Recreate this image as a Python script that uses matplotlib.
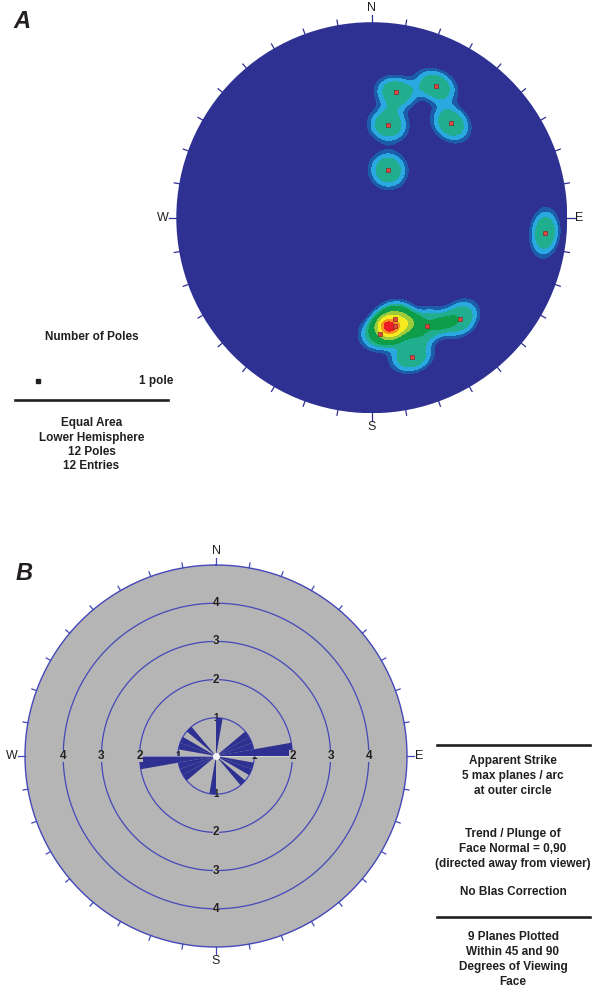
import numpy as np
import matplotlib
matplotlib.use("Agg")
import matplotlib.pyplot as plt
from matplotlib.patches import Circle
from matplotlib.lines import Line2D

plt.rcParams['font.family'] = ['Liberation Sans', 'DejaVu Sans']

W, H = 593, 998
TXT = '#231F20'
DARK_BLUE = '#2E3192'
RING_BLUE = '#4448B8'

# panel A: poles (trend, plunge in degrees), lower hemisphere
pole_trend = [11, 26, 10, 40, 19, 95, 167, 168, 176, 153, 139, 164]
pole_plunge = [35, 26, 50, 37, 69, 12, 46, 43, 40, 38, 32, 27]

# density contour levels / colours
dens_levels = [0.33, 0.54, 0.78, 1.02, 1.6, 1.95, 2.3, 2.5, 10]
dens_colors = ['#1D5CAB', '#29A9E0', '#1FAE8E', '#0E9E4A', '#9CCB3B',
               '#F6EB1E', '#F7941E', '#ED1C24']
kernel_scale = 7.9  # degrees
kernel_power = 3

# panel B: rose of apparent strike (10 deg bins, bidirectional)
strike_bins = [0, 50, 60, 70, 80, 100, 110, 130]
strike_counts = [1, 1, 1, 1, 2, 1, 1, 1]
ring_values = [1, 2, 3, 4]
rose_max = 5

legend_a = ['Equal Area', 'Lower Hemisphere', '12 Poles', '12 Entries']
legend_b1 = ['Apparent Strike', '5 max planes / arc', 'at outer circle']
legend_b2 = ['Trend / Plunge of', 'Face Normal = 0,90', '(directed away from viewer)']
legend_b3 = 'No Blas Correction'
legend_b4 = ['9 Planes Plotted', 'Within 45 and 90', 'Degrees of Viewing', 'Face']


def fx(px):
    return px / W


def fy(py):
    return 1 - py / H


def equal_area(trend, plunge):
    t = np.radians(np.asarray(trend, float))
    p = np.radians(np.asarray(plunge, float))
    r = np.sqrt(2) * np.sin((np.pi / 2 - p) / 2)
    return r * np.sin(t), r * np.cos(t)


def to_vec(trend, plunge):
    t = np.radians(np.asarray(trend, float))
    p = np.radians(np.asarray(plunge, float))
    return np.stack([np.cos(p) * np.sin(t), np.cos(p) * np.cos(t), np.sin(p)], -1)


fig = plt.figure(figsize=(W / 100, H / 100), dpi=100)

# ---------------- panel A ----------------
cxa, cya, ra = 371.8, 217.7, 195.5
axa = fig.add_axes([fx(cxa - ra), fy(cya + ra), 2 * ra / W, 2 * ra / H])
axa.set_xlim(-1, 1)
axa.set_ylim(-1, 1)
axa.axis('off')

disk = Circle((0, 0), 1, facecolor=DARK_BLUE, edgecolor='none', zorder=1)
axa.add_patch(disk)

# density on the sphere, back-projected onto the net
g = np.linspace(-1, 1, 600)
gx, gy = np.meshgrid(g, g)
gr = np.clip(np.hypot(gx, gy), 0, 1)
theta = 2 * np.arcsin(gr / np.sqrt(2))
gt = np.arctan2(gx, gy)
gv = np.stack([np.sin(theta) * np.sin(gt), np.sin(theta) * np.cos(gt), np.cos(theta)], -1)
pv = to_vec(pole_trend, pole_plunge)
dens = np.zeros_like(gx)
for v in pv:
    ang = np.degrees(np.arccos(np.clip(np.abs(gv @ v), -1, 1)))
    dens += np.exp(-(ang / kernel_scale) ** kernel_power)
cs = axa.contourf(gx, gy, dens, levels=dens_levels, colors=dens_colors, zorder=2)
cs.set_clip_path(disk)

px, py = equal_area(pole_trend, pole_plunge)
axa.plot(px, py, 's', ms=2.4, mfc='#E5443D', mec='#7B3030', mew=0.5, zorder=4)

for az in range(0, 360, 10):
    a = np.radians(az)
    r2 = 1.038 if az % 90 == 0 else 1.026
    axa.plot([np.sin(a), r2 * np.sin(a)], [np.cos(a), r2 * np.cos(a)],
             color=DARK_BLUE, lw=0.9, clip_on=False, zorder=3)
card = [('N', 0, 'center', 'bottom'), ('E', 90, 'left', 'center'),
        ('S', 180, 'center', 'top'), ('W', 270, 'right', 'center')]
for lab, az, ha, va in card:
    a = np.radians(az)
    axa.text(1.04 * np.sin(a), 1.04 * np.cos(a), lab, ha=ha, va=va,
             fontsize=9, color=TXT, clip_on=False)

fig.text(0.037, fy(22), 'A', fontsize=17, fontweight='bold', fontstyle='italic',
         color=TXT, ha='center', va='center')

fig.text(fx(91.5), fy(337), 'Number of Poles', fontsize=8.5, fontweight='bold',
         color=TXT, ha='center', va='center')
fig.add_artist(Line2D([fx(38)], [fy(381)], marker='s', ms=3.3, color=TXT,
                      transform=fig.transFigure))
fig.text(fx(173), fy(381), '1 pole', fontsize=8.5, fontweight='bold',
         color=TXT, ha='right', va='center')
fig.add_artist(Line2D([fx(15), fx(168)], [fy(399.5), fy(399.5)], lw=1.9,
                      color=TXT, transform=fig.transFigure))
for i, s in enumerate(legend_a):
    fig.text(fx(91.5), fy(423.3 + 14.2 * i), s, fontsize=8.5, fontweight='bold',
             color=TXT, ha='center', va='center')

# ---------------- panel B ----------------
cxb, cyb, rb = 216, 756, 191
axb = fig.add_axes([fx(cxb - rb), fy(cyb + rb), 2 * rb / W, 2 * rb / H],
                   projection='polar')
axb.set_theta_zero_location('N')
axb.set_theta_direction(-1)
axb.set_rlim(0, rose_max)
axb.set_facecolor('#B5B5B5')
axb.grid(False)
axb.set_xticks([])
axb.set_yticks([])
axb.spines['polar'].set_color(RING_BLUE)
axb.spines['polar'].set_linewidth(1.0)

th = np.linspace(0, 2 * np.pi, 400)
for rv in ring_values:
    axb.plot(th, np.full_like(th, rv), color=RING_BLUE, lw=0.9, zorder=2)

for rv in ring_values:
    for az in (0, 90, 180, 270):
        axb.text(np.radians(az), rv, str(rv), ha='center', va='center',
                 fontsize=8.5 if rv > 1 else 7, fontweight='bold', color=TXT,
                 zorder=2.5 if rv == 1 else 5,
                 bbox=dict(boxstyle='square,pad=0.02', fc='#B5B5B5', ec='none')
                 if rv > 1 else None)

bins_all = np.radians(np.concatenate([strike_bins, np.array(strike_bins) + 180]))
counts_all = np.concatenate([strike_counts, strike_counts])
axb.bar(bins_all, counts_all, width=np.radians(10), align='edge',
        color=DARK_BLUE, edgecolor='none', zorder=3)
axb.plot([np.radians(90), np.radians(270)], [2, 2], color='white', lw=0.5,
         alpha=0.6, zorder=4)
axb.plot([0], [0], 'o', ms=4, color='white', alpha=0.9, zorder=4)

for az in range(0, 360, 10):
    r2 = rose_max + (0.19 if az % 90 == 0 else 0.13)
    axb.plot([np.radians(az)] * 2, [rose_max, r2], color=RING_BLUE, lw=0.9,
             clip_on=False, zorder=3)
for lab, az, ha, va in card:
    axb.text(np.radians(az), rose_max + 0.2, lab, ha=ha, va=va,
             fontsize=9, color=TXT, clip_on=False)

fig.text(0.040, fy(573), 'B', fontsize=17, fontweight='bold', fontstyle='italic',
         color=TXT, ha='center', va='center')

fig.add_artist(Line2D([fx(437), fx(590)], [fy(745), fy(745)], lw=1.9,
                      color=TXT, transform=fig.transFigure))
fig.add_artist(Line2D([fx(437), fx(590)], [fy(917), fy(917)], lw=1.9,
                      color=TXT, transform=fig.transFigure))
for i, s in enumerate(legend_b1):
    fig.text(fx(513), fy(761 + 15 * i), s, fontsize=8.5, fontweight='bold',
             color=TXT, ha='center', va='center')
for i, s in enumerate(legend_b2):
    fig.text(fx(513), fy(834 + 15 * i), s, fontsize=8.5, fontweight='bold',
             color=TXT, ha='center', va='center')
fig.text(fx(513), fy(892), legend_b3, fontsize=8.5, fontweight='bold',
         color=TXT, ha='center', va='center')
for i, s in enumerate(legend_b4):
    fig.text(fx(513), fy(937 + 15 * i), s, fontsize=8.5, fontweight='bold',
             color=TXT, ha='center', va='center')

fig.savefig('out.png', dpi=100)
